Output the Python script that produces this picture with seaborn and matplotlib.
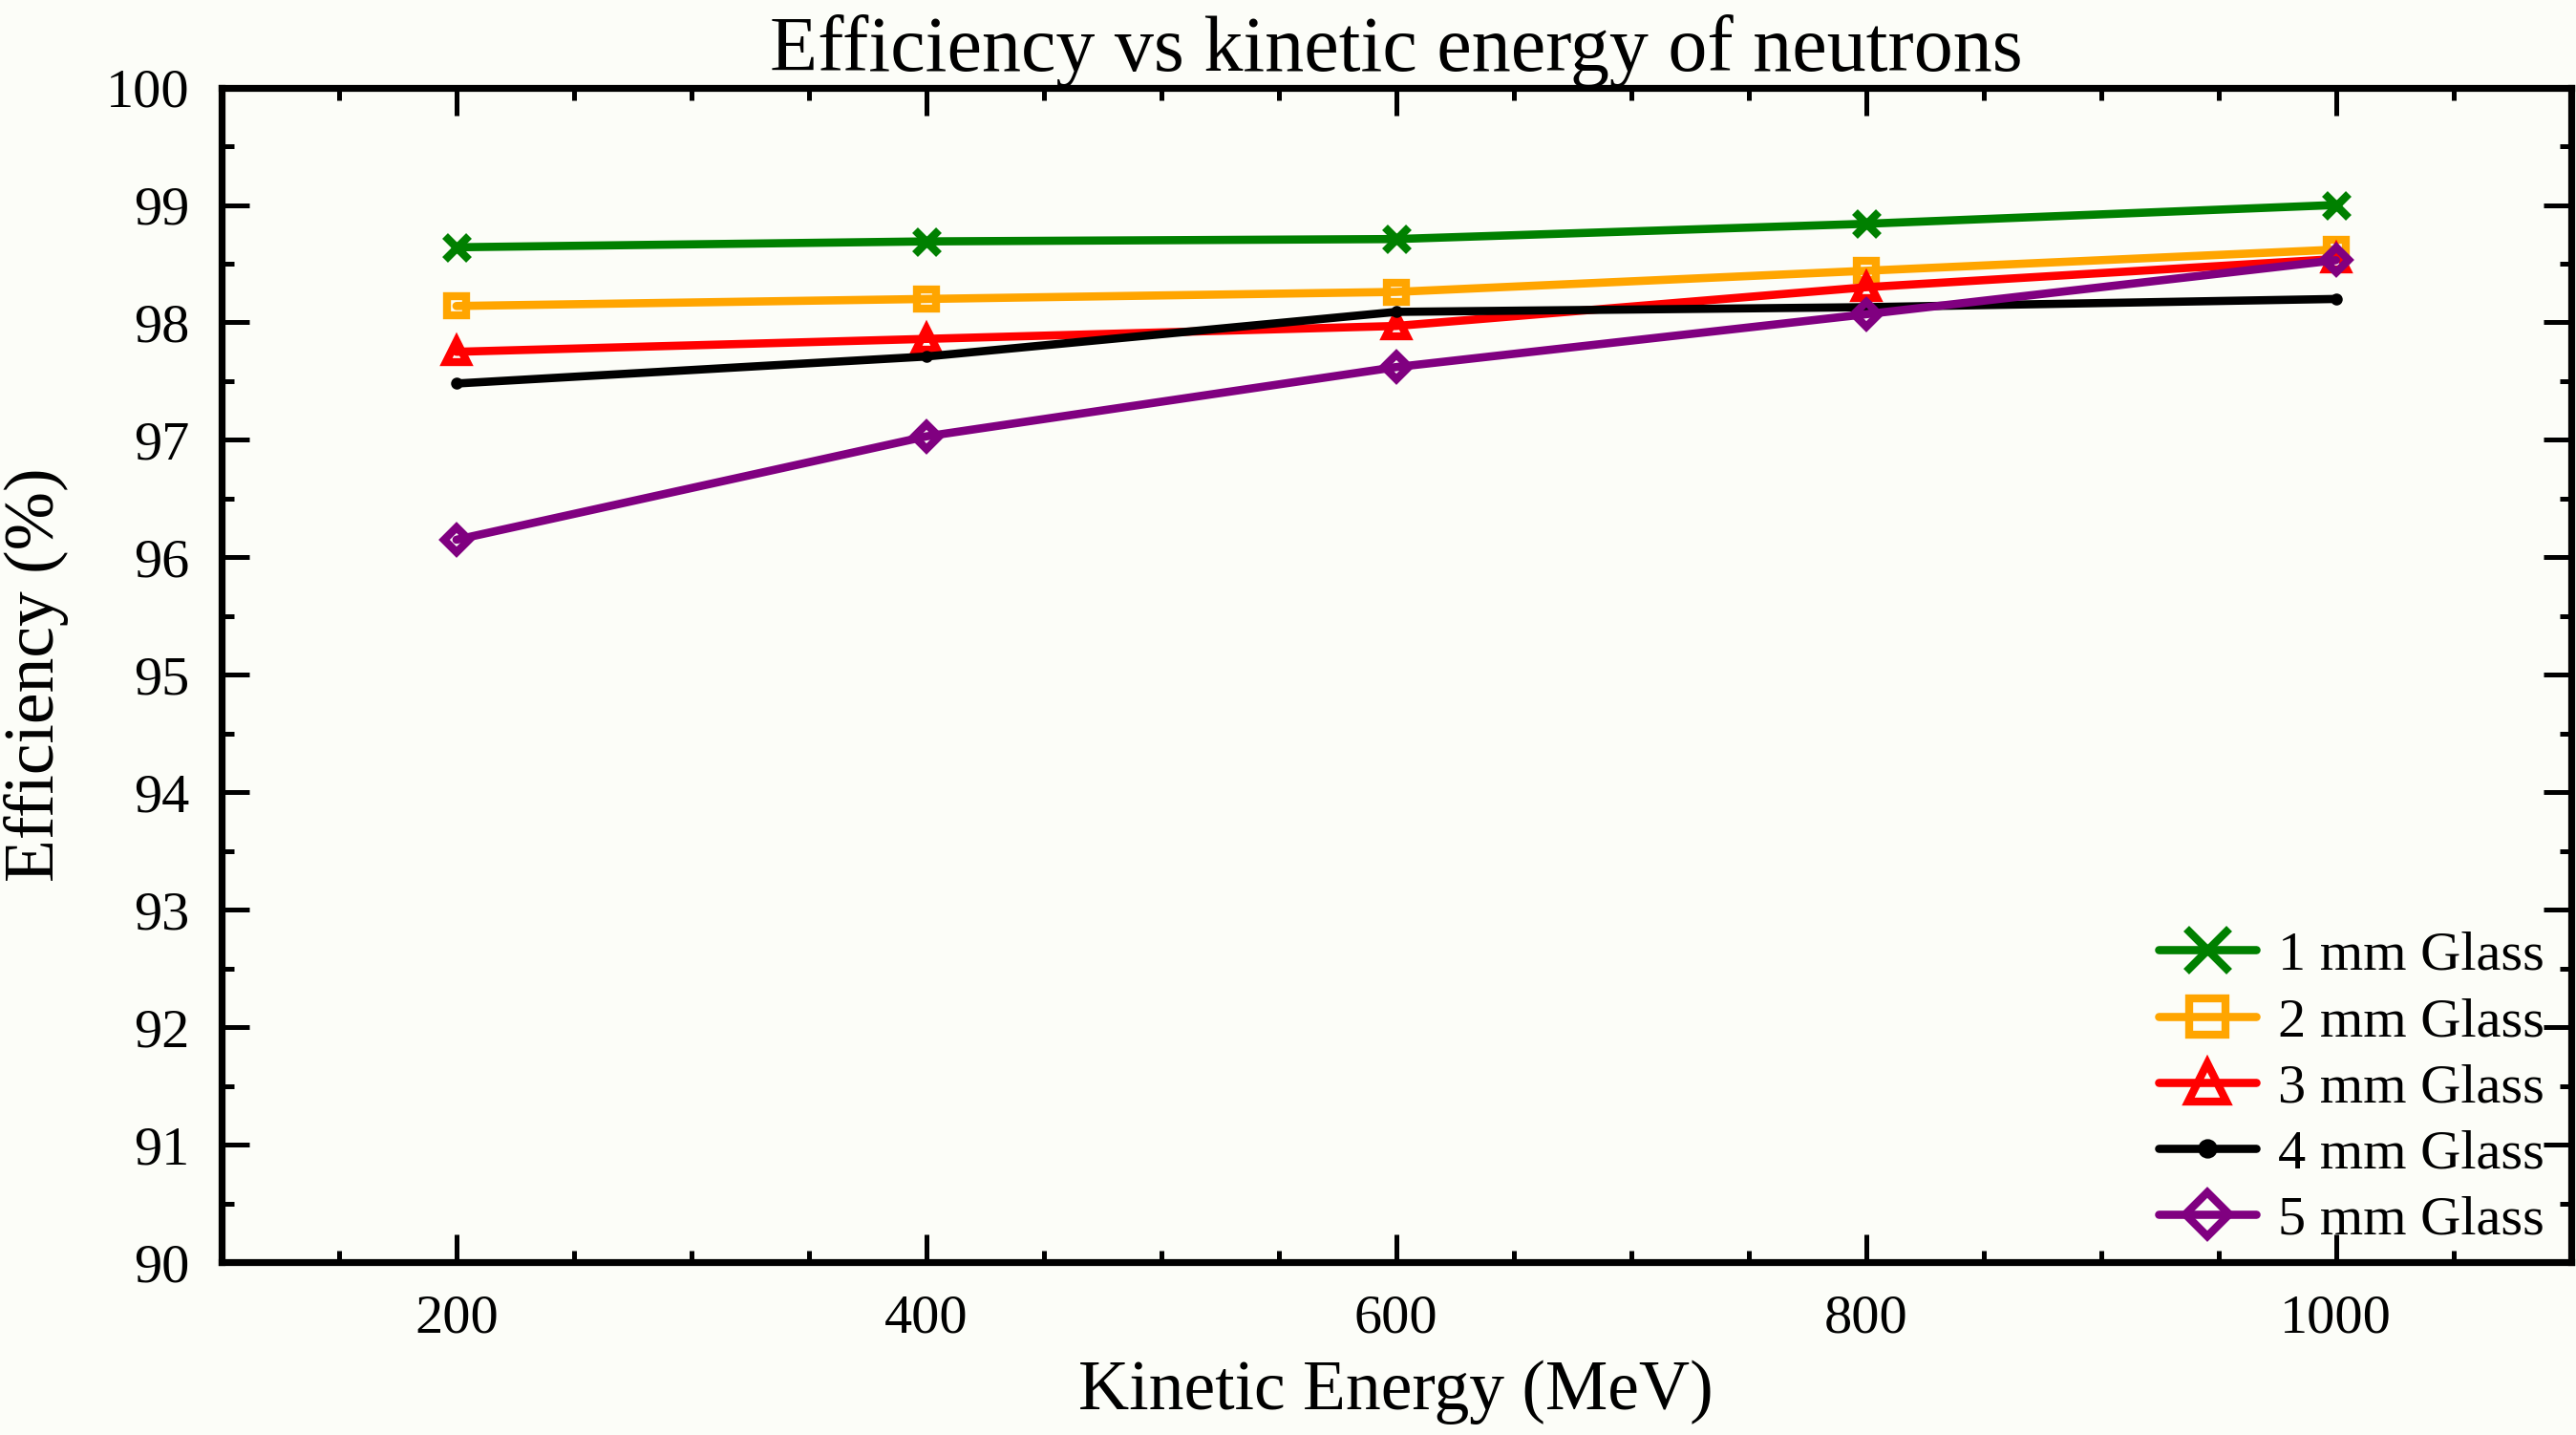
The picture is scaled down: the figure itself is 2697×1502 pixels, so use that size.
import matplotlib
matplotlib.use("Agg")
import matplotlib.pyplot as plt
import seaborn as sns
import pandas as pd
import numpy as np
from matplotlib.ticker import MultipleLocator

energy = [200, 400, 600, 800, 1000]
glass_1mm = [98.64, 98.69, 98.71, 98.84, 99.00]
glass_2mm = [98.14, 98.20, 98.26, 98.44, 98.62]
glass_3mm = [97.75, 97.86, 97.97, 98.30, 98.54]
glass_4mm = [97.48, 97.71, 98.09, 98.13, 98.20]
glass_5mm = [96.15, 97.03, 97.62, 98.07, 98.53]
labels = ["1 mm Glass", "2 mm Glass", "3 mm Glass", "4 mm Glass", "5 mm Glass"]

series = [glass_1mm, glass_2mm, glass_3mm, glass_4mm, glass_5mm]
colors = ["green", "orange", "red", "black", "purple"]
markers = ["x", "s", "^", "o", "D"]
msizes = [9, 7.5, 8, 3.5, 6.5]

sns.set_style("ticks")
plt.rcParams["font.family"] = ["Liberation Serif", "DejaVu Serif"]
for k in ["text.color", "axes.labelcolor", "xtick.color", "ytick.color", "axes.edgecolor"]:
    plt.rcParams[k] = "black"

bg = "#fcfdf8"
fig = plt.figure(figsize=(2697 / 200, 1502 / 200), dpi=200, facecolor=bg)
ax = fig.add_axes([0.086, 0.1205, 0.912, 0.8185])
ax.set_facecolor(bg)

for vals, lab, c, m, ms in zip(series, labels, colors, markers, msizes):
    df = pd.DataFrame({"energy": energy, "eff": vals})
    face = c if m == "o" else "none"
    sns.lineplot(data=df, x="energy", y="eff", ax=ax, color=c, linewidth=3.1,
                 marker=m, markersize=ms, markerfacecolor=face,
                 markeredgecolor=c, markeredgewidth=3.0 if m != "o" else 1.0,
                 label=lab, legend=False)

ax.set_xlim(100, 1100)
ax.set_ylim(90, 100)
ax.xaxis.set_major_locator(MultipleLocator(200))
ax.xaxis.set_minor_locator(MultipleLocator(50))
ax.yaxis.set_major_locator(MultipleLocator(1))
ax.yaxis.set_minor_locator(MultipleLocator(0.5))
ax.tick_params(which="both", direction="in", top=True, right=True, colors="black")
ax.tick_params(which="major", length=10.5, width=1.8, labelsize=21, pad=12)
ax.tick_params(which="minor", length=4.5, width=1.8)
for s in ax.spines.values():
    s.set_linewidth(2.6)
    s.set_color("black")

ax.set_title("Efficiency vs kinetic energy of neutrons", fontsize=29.5, pad=6)
ax.set_xlabel("Kinetic Energy (MeV)", fontsize=26.5, labelpad=6)
ax.set_ylabel("Efficiency (%)", fontsize=26.5, labelpad=14)

leg = ax.legend(loc="lower right", bbox_to_anchor=(0.996, 0.0), frameon=False,
                fontsize=21, markerscale=1.8, handlelength=1.75, labelspacing=0.28,
                handletextpad=0.4, borderpad=0.2, borderaxespad=0.1)

fig.savefig("out.png", dpi=200, facecolor=bg)
